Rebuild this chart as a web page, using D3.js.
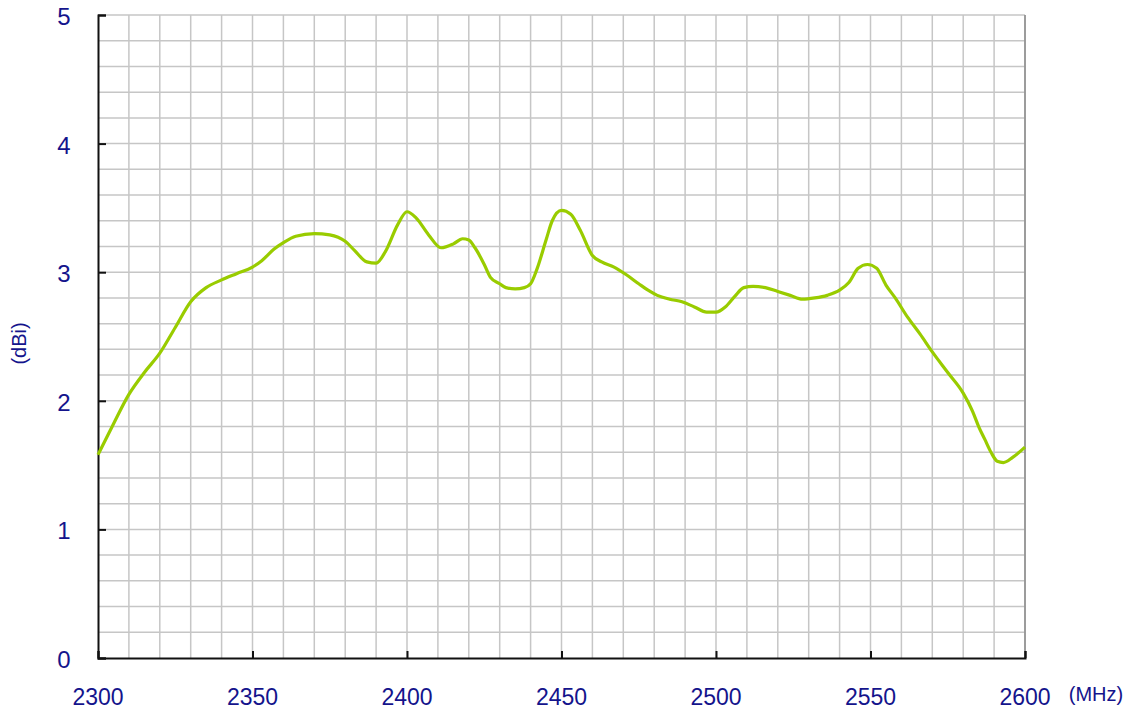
<!DOCTYPE html>
<html>
<head>
<meta charset="utf-8">
<script src="https://cdn.jsdelivr.net/npm/d3@7"></script>
<style>
  body { margin: 0; background: #fff; }
  text { font-family: "Liberation Sans", Arial, sans-serif; fill: #14148c; }
</style>
</head>
<body>
<div id="chart"></div>
<script>
// frequency (MHz) and gain (dBi)
const freqs = [2300, 2305, 2310, 2315, 2320, 2325, 2330, 2335, 2340, 2345, 2350, 2353, 2357, 2360,
  2364, 2370, 2375, 2380, 2383, 2387, 2390, 2393, 2397, 2400, 2403, 2407, 2411, 2415, 2418, 2420,
  2422, 2425, 2427, 2430, 2432, 2435, 2438, 2440, 2442, 2445, 2447, 2450, 2453, 2456, 2460, 2463,
  2467, 2471, 2475, 2478, 2481, 2485, 2489, 2493, 2497, 2500, 2503, 2506, 2509, 2512, 2516, 2520,
  2524, 2528, 2532, 2536, 2540, 2543, 2546, 2549, 2552, 2555, 2558, 2562, 2566, 2570, 2575, 2580,
  2583, 2585, 2587, 2589, 2591, 2593, 2596, 2600];
const gain = [1.58, 1.82, 2.05, 2.22, 2.37, 2.57, 2.77, 2.88, 2.94, 2.99, 3.04, 3.09, 3.18, 3.23,
  3.28, 3.30, 3.29, 3.24, 3.17, 3.08, 3.07, 3.16, 3.37, 3.47, 3.42, 3.29, 3.19, 3.22, 3.26, 3.25,
  3.19, 3.06, 2.96, 2.91, 2.88, 2.87, 2.88, 2.91, 3.02, 3.25, 3.40, 3.48, 3.45, 3.33, 3.13, 3.08,
  3.04, 2.98, 2.91, 2.86, 2.82, 2.79, 2.77, 2.73, 2.69, 2.69, 2.73, 2.81, 2.88, 2.89, 2.88, 2.85,
  2.82, 2.79, 2.80, 2.82, 2.86, 2.92, 3.03, 3.06, 3.03, 2.90, 2.80, 2.65, 2.52, 2.38, 2.22, 2.06,
  1.92, 1.80, 1.70, 1.60, 1.53, 1.52, 1.56, 1.64];
const xTicks = [2300, 2350, 2400, 2450, 2500, 2550, 2600];
const yTicks = [0, 1, 2, 3, 4, 5];

const width = 1133, height = 715;
const margin = { left: 98, right: 108, top: 15, bottom: 57 };

const svg = d3.select("#chart").append("svg")
  .attr("width", width)
  .attr("height", height);

const x = d3.scaleLinear().domain([2300, 2600]).range([margin.left, width - margin.right]);
const y = d3.scaleLinear().domain([0, 5]).range([height - margin.bottom, margin.top]);

// grid: every 10 MHz and every 0.2 dBi
const grid = svg.append("g").attr("stroke", "#c6c6c6").attr("stroke-width", 1.5);
grid.selectAll(".vx")
  .data(d3.range(2310, 2601, 10))
  .enter().append("line")
  .attr("x1", d => x(d)).attr("x2", d => x(d))
  .attr("y1", y(0)).attr("y2", y(5));
grid.selectAll(".hy")
  .data(d3.range(1, 26).map(i => i * 0.2))
  .enter().append("line")
  .attr("x1", x(2300)).attr("x2", x(2600))
  .attr("y1", d => y(d)).attr("y2", d => y(d));

// right border a bit darker
svg.append("line")
  .attr("x1", x(2600)).attr("x2", x(2600))
  .attr("y1", y(0)).attr("y2", y(5))
  .attr("stroke", "#8a8a8a").attr("stroke-width", 1.5);

// axes
const xAxis = svg.append("g")
  .attr("transform", `translate(0,${y(0)})`)
  .call(d3.axisTop(x).tickValues(xTicks).tickSize(7).tickFormat(""));
xAxis.select(".domain").attr("stroke", "#111").attr("stroke-width", 2);
xAxis.selectAll(".tick line").attr("stroke", "#111").attr("stroke-width", 2);

const yAxis = svg.append("g")
  .attr("transform", `translate(${x(2300)},0)`)
  .call(d3.axisRight(y).tickValues(yTicks).tickSize(8).tickFormat(""));
yAxis.select(".domain").attr("stroke", "#111").attr("stroke-width", 2);
yAxis.selectAll(".tick line").attr("stroke", "#111").attr("stroke-width", 2);

// tick labels
svg.selectAll(".xl")
  .data(xTicks)
  .enter().append("text")
  .attr("x", d => x(d))
  .attr("y", 705)
  .attr("text-anchor", "middle")
  .attr("font-size", 23)
  .text(d => d);

svg.selectAll(".yl")
  .data(yTicks)
  .enter().append("text")
  .attr("x", 64)
  .attr("y", d => y(d) + 10)
  .attr("text-anchor", "middle")
  .attr("font-size", 24)
  .text(d => d);

svg.append("text")
  .attr("x", 1096).attr("y", 701)
  .attr("text-anchor", "middle")
  .attr("font-size", 20)
  .text("(MHz)");

svg.append("text")
  .attr("transform", `translate(26,${y(2.5) + 7}) rotate(-90)`)
  .attr("text-anchor", "middle")
  .attr("font-size", 20)
  .text("(dBi)");

// gain curve
const line = d3.line()
  .x((d, i) => x(freqs[i]))
  .y(d => y(d))
  .curve(d3.curveMonotoneX);

svg.append("path")
  .datum(gain)
  .attr("fill", "none")
  .attr("stroke", "#99cc00")
  .attr("stroke-width", 3.2)
  .attr("stroke-linejoin", "round")
  .attr("d", line);
</script>
</body>
</html>
